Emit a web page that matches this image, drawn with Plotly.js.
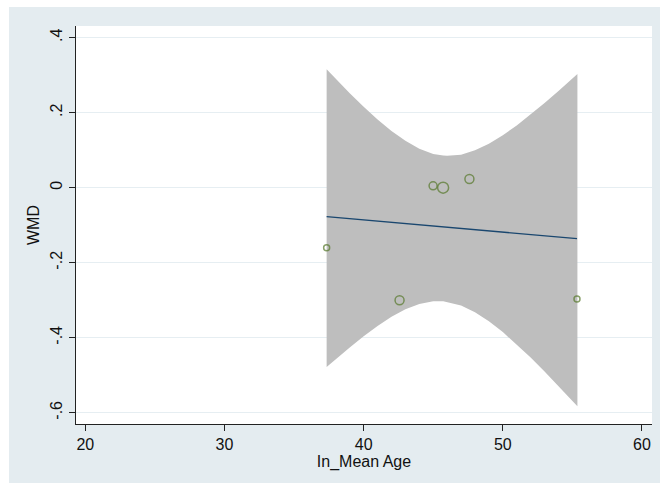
<!DOCTYPE html>
<html>
<head>
<meta charset="utf-8">
<script src="https://cdn.plot.ly/plotly-3.0.1.min.js"></script>
<style>
  html, body { margin: 0; padding: 0; background: #ffffff; }
  #chart { position: absolute; left: 9px; top: 7px; width: 651px; height: 476px; }
</style>
</head>
<body>
<div id="chart"></div>
<script>
// Study-level observations: mean age vs. weighted mean difference
const meanAge = [37.34, 42.58, 44.99, 45.71, 47.6, 55.33];
const wmd = [-0.16, -0.30, 0.005, 0.0, 0.023, -0.297];
const bubbleSize = [6, 9, 8, 11, 9, 6];

// Fitted meta-regression line
const fitAge = [37.34, 55.33];
const fitWmd = [-0.077, -0.136];

// Confidence band around the fitted line
const bandAge = [37.34, 38, 39, 40, 41, 42, 43, 44, 45, 45.72, 46, 47, 48, 49, 50, 51, 52, 53, 54, 55.36];
const bandUpper = [0.316, 0.290, 0.252, 0.216, 0.182, 0.151, 0.125, 0.104, 0.090, 0.086, 0.085, 0.088, 0.100, 0.117, 0.140, 0.166, 0.195, 0.226, 0.258, 0.303];
const bandLower = [-0.478, -0.457, -0.426, -0.396, -0.369, -0.344, -0.324, -0.310, -0.303, -0.303, -0.304, -0.314, -0.332, -0.356, -0.385, -0.418, -0.453, -0.490, -0.529, -0.583];

// Axis ticks
const xTicks = [20, 30, 40, 50, 60];
const yTicks = [0.4, 0.2, 0, -0.2, -0.4, -0.6];
const yTickText = ['.4', '.2', '0', '-.2', '-.4', '-.6'];

const band = {
  x: bandAge.concat(bandAge.slice().reverse()),
  y: bandUpper.concat(bandLower.slice().reverse()),
  type: 'scatter',
  mode: 'lines',
  fill: 'toself',
  fillcolor: '#bebebe',
  line: { width: 0, color: '#bebebe' },
  hoverinfo: 'skip',
  showlegend: false
};

const points = {
  x: meanAge,
  y: wmd,
  type: 'scatter',
  mode: 'markers',
  marker: {
    symbol: 'circle-open',
    size: bubbleSize,
    color: '#56782a',
    line: { width: 1.5, color: '#56782a' }
  },
  showlegend: false
};

const fit = {
  x: fitAge,
  y: fitWmd,
  type: 'scatter',
  mode: 'lines',
  line: { color: '#1a476f', width: 1.3 },
  showlegend: false
};

const fontFam = '"Liberation Sans", Arial, sans-serif';

const layout = {
  width: 651,
  height: 476,
  paper_bgcolor: '#e4ecf0',
  plot_bgcolor: '#ffffff',
  margin: { l: 67, r: 8, t: 19, b: 59 },
  font: { family: fontFam, size: 16, color: '#111111' },
  xaxis: {
    range: [19.33, 60.72],
    tickvals: xTicks,
    ticks: 'outside',
    ticklen: 6,
    tickcolor: '#222222',
    showgrid: false,
    zeroline: false,
    showline: true,
    linecolor: '#222222',
    linewidth: 1.2,
    tickfont: { size: 16 },
    title: { text: 'In_Mean Age', font: { size: 16 }, standoff: 2 }
  },
  yaxis: {
    range: [-0.63, 0.431],
    tickvals: yTicks,
    ticktext: yTickText,
    tickangle: -90,
    ticks: 'outside',
    ticklen: 6,
    tickcolor: '#222222',
    showgrid: true,
    gridcolor: '#e6eef2',
    gridwidth: 1,
    zeroline: false,
    showline: true,
    linecolor: '#222222',
    linewidth: 1.2,
    tickfont: { size: 16 },
    title: { text: 'WMD', font: { size: 16 }, standoff: 4 }
  }
};

Plotly.newPlot('chart', [band, fit, points], layout, { displayModeBar: false, staticPlot: true });
</script>
</body>
</html>
